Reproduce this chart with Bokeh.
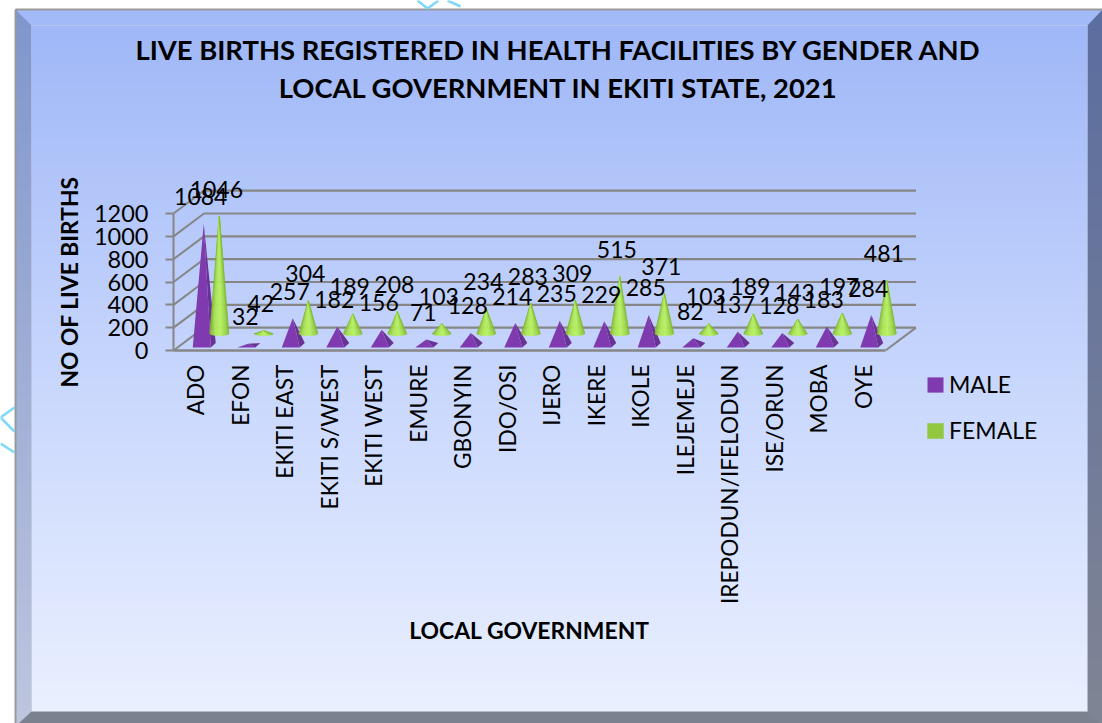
import math
import numpy as np
from bokeh.plotting import figure
from bokeh.models import Range1d, LinearAxis, FixedTicker, Label, Legend, LegendItem
from bokeh.core.properties import value
from bokeh.embed import file_html
from bokeh.resources import INLINE

TITLE_1 = "LIVE BIRTHS REGISTERED IN HEALTH FACILITIES BY GENDER AND"
TITLE_2 = "LOCAL GOVERNMENT IN EKITI STATE, 2021"
lgas = ["ADO", "EFON", "EKITI EAST", "EKITI S/WEST", "EKITI WEST", "EMURE", "GBONYIN", "IDO/OSI",
        "IJERO", "IKERE", "IKOLE", "ILEJEMEJE", "IREPODUN/IFELODUN", "ISE/ORUN", "MOBA", "OYE"]
male = [1084, 32, 257, 182, 156, 71, 128, 214, 235, 229, 285, 82, 137, 128, 183, 284]
female = [1046, 42, 304, 189, 208, 103, 234, 283, 309, 515, 371, 103, 189, 143, 197, 481]
y_ticks = [0, 200, 400, 600, 800, 1000, 1200]

FONT = "Lato"
W, H = 1102, 723
PXX, PXY = 44.5, 137 / 1200        # pixels per category, pixels per birth
X0, Y0 = 195.25, 350               # page position of category 0 / value 0


def dx(px):
    return (px - X0) / PXX


def dy(py):
    return (Y0 - py) / PXY


p = figure(width=W, height=H, x_range=Range1d(dx(0), dx(W)), y_range=Range1d(dy(H), dy(0)),
           x_axis_type=None, y_axis_type=None, toolbar_location=None, output_backend="svg", min_border=0)
p.outline_line_color = None
p.background_fill_color = "white"
p.border_fill_color = "white"
p.xgrid.visible = False
p.ygrid.visible = False


def gradient(stops, n):
    ts = np.linspace(0, 1, n)
    arr = np.zeros((n, 1), dtype=np.uint32)
    view = arr.view(dtype=np.uint8).reshape((n, 1, 4))
    pos = [s[0] for s in stops]
    for c in range(3):
        view[:, 0, c] = np.interp(ts, pos, [s[1][c] for s in stops]).astype(np.uint8)
    view[:, 0, 3] = 255
    return arr


L, R, T, B = 31, 1087, 25, 711
OL, OT = 15, 9
RE, BE = W, H
# panel (image rows run bottom to top)
p.image_rgba(image=[gradient([(0, (234, 240, 255)), (0.45, (203, 217, 253)), (1, (160, 184, 248))], 343)],
             x=dx(L), y=dy(B), dw=(R - L) / PXX, dh=(B - T) / PXY)
# left and right bevels
p.image_rgba(image=[gradient([(0, (190, 198, 222)), (1, (128, 150, 205))], 200)],
             x=dx(OL), y=dy(BE), dw=(L - OL) / PXX, dh=(BE - OT) / PXY)
p.image_rgba(image=[gradient([(0, (128, 133, 148)), (1, (92, 110, 160))], 200)],
             x=dx(R), y=dy(BE), dw=(RE - R) / PXX, dh=(BE - OT) / PXY)
# top and bottom bevels
p.patch([dx(OL), dx(RE), dx(R), dx(L)], [dy(OT), dy(OT), dy(T), dy(T)], fill_color="#A3BAF8", line_color=None)
p.patch([dx(OL + 3), dx(RE - 3), dx(R), dx(L)], [dy(BE), dy(BE), dy(B), dy(B)], fill_color="#7C8190", line_color=None)
p.line([dx(OL), dx(OL)], [dy(BE), dy(OT)], line_color="#9A9A9A", line_width=2)
p.line([dx(OL), dx(RE)], [dy(OT), dy(OT)], line_color="#9A9A9A", line_width=2)
p.line([dx(L), dx(L), dx(R), dx(R), dx(L)], [dy(B), dy(T), dy(T), dy(B), dy(B)],
       line_color="#AEB9D8", line_width=0.6, line_alpha=0.6)
# pale marks on the white margin
p.multi_line([[dx(0), dx(14)], [dx(0), dx(14)], [dx(0), dx(14)], [dx(417), dx(427), dx(438)], [dx(447), dx(460)]],
             [[dy(417), dy(407)], [dy(417), dy(431)], [dy(443), dy(452)], [dy(0), dy(8), dy(0)], [dy(0), dy(6)]],
             line_color="#7FD8F8", line_width=2.5)

# walls
STEP = 200
DX = 30.5 / PXX
xl, xr = -0.5, 15.5
back_x = [[xl + DX, xr + DX] for _ in y_ticks]
back_y = [[v + STEP, v + STEP] for v in y_ticks]
side_x = [[xl, xl + DX] for _ in y_ticks]
side_y = [[v, v + STEP] for v in y_ticks]
p.multi_line(back_x, back_y, line_color="#868686", line_width=2.2)
p.multi_line(side_x, side_y, line_color="#868686", line_width=2)
p.line([xr, xr + DX], [0, STEP], line_color="#868686", line_width=2)

# pyramids
M_OFF, M_BASE, M_BACK = 0.18, 3 / PXY, 7.5 / PXY
xs_f, ys_f, xs_s, ys_s = [], [], [], []
for i, v in enumerate(male):
    cx = i + M_OFF
    top = v + M_BASE
    xs_f.append([cx - 11 / PXX, cx + 7 / PXX, cx])
    ys_f.append([M_BASE, M_BASE, top])
    xs_s.append([cx + 7 / PXX, cx + 12 / PXX, cx])
    ys_s.append([M_BASE, M_BACK, top])
p.patches(xs_s, ys_s, fill_color="#6A3295", line_color=None)
male_front = p.patches(xs_f, ys_f, fill_color="#7E3AAE", line_color=None)

# cones, shaded in wedge slices
F_OFF, F_BASE, F_MID = 0.53, 15 / PXY, 17 / PXY
RAD, RY = 9.5 / PXX, 2.2 / PXY
N = 14
shade = [(0, (122, 176, 44)), (0.35, (176, 232, 88)), (0.55, (186, 244, 100)), (1, (128, 184, 48))]
cone_x, cone_y, cone_c = [], [], []
for i, v in enumerate(female):
    cx = i + F_OFF
    for k in range(N):
        t0, t1 = math.pi * (1 - k / N), math.pi * (1 - (k + 1) / N)
        cone_x.append([cx, cx + RAD * math.cos(t0), cx + RAD * math.cos(t1)])
        cone_y.append([v + F_BASE, F_MID - RY * math.sin(t0), F_MID - RY * math.sin(t1)])
        f = k / (N - 1)
        rgb = [int(np.interp(f, [s[0] for s in shade], [s[1][c] for s in shade])) for c in range(3)]
        cone_c.append("#%02X%02X%02X" % tuple(rgb))
female_cones = p.patches(cone_x, cone_y, fill_color=cone_c, line_color=cone_c, line_width=0.4)

# value labels
for off, base, vals in ((M_OFF, M_BASE, male), (F_OFF, F_BASE, female)):
    p.text([i + off for i in range(16)], [v + base for v in vals], text=[str(v) for v in vals],
           text_font=value(FONT), text_font_size="23px", text_color="black",
           text_align="center", text_baseline="middle", x_offset=-3, y_offset=-27)

# axes
yax = LinearAxis(ticker=FixedTicker(ticks=y_ticks), fixed_location=xl, bounds=(0, 1200),
                 axis_line_color="#868686", axis_line_width=2,
                 major_tick_line_color="#868686", major_tick_line_width=2, major_tick_in=0, major_tick_out=8,
                 minor_tick_line_color=None,
                 major_label_text_font=FONT, major_label_text_font_size="23.5px", major_label_text_color="black",
                 major_label_standoff=17,
                 axis_label="NO OF LIVE BIRTHS", axis_label_text_font=FONT, axis_label_text_font_size="22.8px",
                 axis_label_text_font_style="bold", axis_label_text_color="black", axis_label_standoff=8)
p.add_layout(yax, "left")
xax = LinearAxis(ticker=FixedTicker(ticks=list(range(len(lgas)))), fixed_location=0, bounds=(xl, xr),
                 major_label_overrides={i: n for i, n in enumerate(lgas)},
                 major_label_orientation=math.pi / 2,
                 axis_line_color="#868686", axis_line_width=2.4,
                 major_tick_line_color=None, minor_tick_line_color=None,
                 major_label_text_font=FONT, major_label_text_font_size="22.7px", major_label_text_color="black",
                 major_label_standoff=8,
                 axis_label="LOCAL GOVERNMENT", axis_label_text_font=FONT, axis_label_text_font_size="22.9px",
                 axis_label_text_font_style="bold", axis_label_text_color="black", axis_label_standoff=9)
p.add_layout(xax, "below")

# legend
legend = Legend(items=[LegendItem(label="MALE", renderers=[male_front], index=0),
                       LegendItem(label="FEMALE", renderers=[female_cones], index=2)],
                location=(925, H - 444), orientation="vertical", spacing=18,
                background_fill_alpha=0, border_line_color=None, glyph_width=20, glyph_height=19,
                label_text_font=FONT, label_text_font_size="23px", label_text_color="black",
                label_standoff=4, margin=0, padding=0, label_height=26)
p.add_layout(legend, "center")

# title
for txt, py in ((TITLE_1, 49), (TITLE_2, 87)):
    p.add_layout(Label(x=558, y=H - py, x_units="screen", y_units="screen", text=txt,
                       text_font=FONT, text_font_size="27.4px", text_font_style="bold", text_color="black",
                       text_align="center", text_baseline="middle"))

open("out.html", "w").write(file_html(p, INLINE))
